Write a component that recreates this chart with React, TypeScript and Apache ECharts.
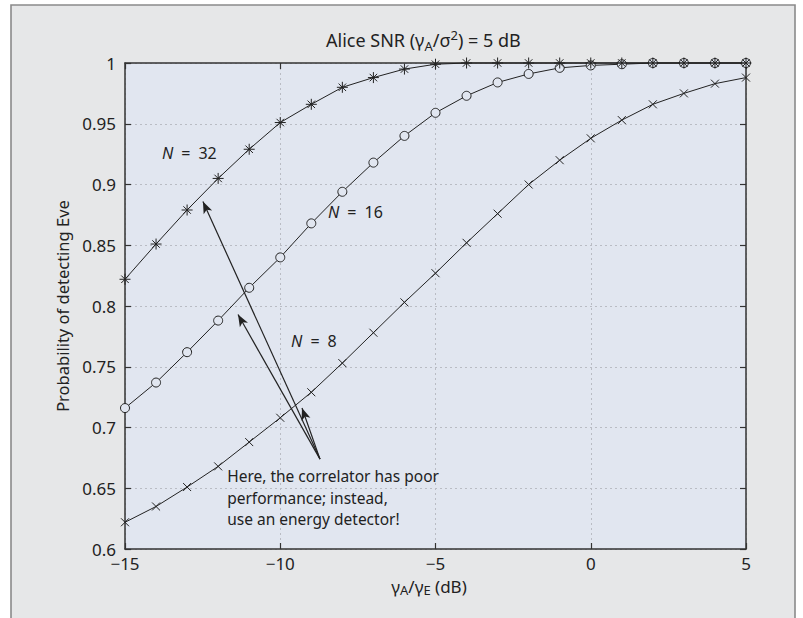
import React, { useEffect, useRef } from "react";
import * as echarts from "echarts";

const xValues: number[] = [-15, -14, -13, -12, -11, -10, -9, -8, -7, -6, -5, -4, -3, -2, -1, 0, 1, 2, 3, 4, 5];
const n32: number[] = [0.822, 0.851, 0.879, 0.905, 0.929, 0.951, 0.966, 0.98, 0.988, 0.995, 0.999, 1, 1, 1, 1, 1, 1, 1, 1, 1, 1];
const n16: number[] = [0.716, 0.737, 0.762, 0.788, 0.815, 0.84, 0.868, 0.894, 0.918, 0.94, 0.959, 0.973, 0.984, 0.991, 0.996, 0.998, 0.999, 1, 1, 1, 1];
const n8: number[] = [0.622, 0.635, 0.651, 0.668, 0.688, 0.708, 0.729, 0.753, 0.778, 0.803, 0.827, 0.852, 0.876, 0.9, 0.92, 0.938, 0.953, 0.966, 0.975, 0.983, 0.988];

const seriesNames: string[] = ["N = 8", "N = 16", "N = 32"];
const xTicks = { min: -15, max: 5, interval: 5 };
const yTicks = { min: 0.6, max: 1, interval: 0.05 };

// arrows: [from, to] in data coordinates
const arrowFrom: [number, number] = [-8.72, 0.674];
const arrowTips: [number, number][] = [
  [-12.49, 0.886],
  [-11.36, 0.793],
  [-9.3, 0.716],
];
const labelPos: [number, number][] = [
  [-9.65, 0.771], // N = 8
  [-8.46, 0.877], // N = 16
  [-13.81, 0.926], // N = 32
];
const noteLines: string[] = [
  "Here, the correlator has poor",
  "performance; instead,",
  "use an energy detector!",
];
const notePos: [number, number] = [-11.71, 0.6597];

const FONT = "'Noto Sans', 'Open Sans', sans-serif";
const INK = "#222";

const pair = (ys: number[]) => xValues.map((x, i) => [x, ys[i]]);

const asteriskPath = "path://M5 0L5 10M0 5L10 5M1.6 1.6L8.4 8.4M8.4 1.6L1.6 8.4";
const crossPath = "path://M0 0L10 10M10 0L0 10";

export default function App() {
  const ref = useRef<HTMLDivElement>(null);
  useEffect(() => {
    if (!ref.current) return;
    const chart = echarts.init(ref.current, null, { renderer: "svg" });
    const axisLine = { show: true, onZero: false, lineStyle: { color: "#333", width: 1.5 } };
    const tick = { show: true, inside: true, length: 6, lineStyle: { color: "#333", width: 1.2 } };
    const split = { show: true, lineStyle: { color: "#b9bcc4", type: [2, 3] as any, width: 1 } };
    const labelStyle = { fontFamily: FONT, fontSize: 17, color: "#222" };
    const markerStyle = { color: "none", borderColor: INK, borderWidth: 1 };
    const option: any = {
      animation: false,
      backgroundColor: "#fff",
      grid: {
        left: 125,
        right: 57,
        top: 63,
        bottom: 69,
        show: true,
        backgroundColor: "#e1e6f0",
        borderWidth: 0,
      },
      xAxis: [
        {
          type: "value",
          ...xTicks,
          axisLine,
          axisTick: tick,
          splitLine: split,
          axisLabel: {
            ...labelStyle,
            margin: 6,
            formatter: (v: number) => String(v).replace("-", "\u2212"),
          },
        },
        {
          type: "value",
          position: "top",
          ...xTicks,
          axisLine,
          axisTick: tick,
          splitLine: { show: false },
          axisLabel: { show: false },
        },
      ],
      yAxis: [
        {
          type: "value",
          ...yTicks,
          axisLine,
          axisTick: tick,
          splitLine: split,
          axisLabel: { ...labelStyle, margin: 9 },
        },
        {
          type: "value",
          position: "right",
          ...yTicks,
          axisLine,
          axisTick: tick,
          splitLine: { show: false },
          axisLabel: { show: false },
        },
      ],
      series: [
        {
          name: seriesNames[0],
          type: "line",
          data: pair(n8),
          clip: false,
          symbol: crossPath,
          symbolSize: 8,
          showAllSymbol: true,
          lineStyle: { color: INK, width: 1 },
          itemStyle: markerStyle,
          z: 3,
          markLine: {
            silent: true,
            symbol: ["none", "arrow"],
            symbolSize: [7, 12],
            label: { show: false },
            lineStyle: { color: INK, width: 1.2, type: "solid" },
            data: arrowTips.map((t) => [{ coord: arrowFrom }, { coord: t }]),
          },
        },
        {
          name: seriesNames[1],
          type: "line",
          data: pair(n16),
          clip: false,
          symbol: "circle",
          symbolSize: 9,
          showAllSymbol: true,
          lineStyle: { color: INK, width: 1 },
          itemStyle: { color: "#e1e6f0", borderColor: INK, borderWidth: 1 },
          z: 4,
        },
        {
          name: seriesNames[2],
          type: "line",
          data: pair(n32),
          clip: false,
          symbol: asteriskPath,
          symbolSize: 11,
          showAllSymbol: true,
          lineStyle: { color: INK, width: 1 },
          itemStyle: markerStyle,
          z: 5,
        },
      ],
    };
    chart.setOption(option);

    const px = (p: [number, number]) => chart.convertToPixel({ gridIndex: 0 }, p) as number[];
    const graphics: any[] = [
      {
        type: "rect",
        z: -10,
        silent: true,
        shape: { x: 11, y: 5, width: 784, height: 640 },
        style: { fill: "#e6e7e8", stroke: "#8a8a8a", lineWidth: 1.6 },
      },
      {
        type: "text",
        z: 100,
        x: 326,
        y: 40,
        style: {
          text: "{n|Alice SNR (\u03b3}{sub|A}{n|/\u03c3}{sup|2}{n|) = 5 dB}",
          align: "left",
          verticalAlign: "middle",
          fill: "#222",
          rich: {
            n: { fontFamily: FONT, fontSize: 18, lineHeight: 24, fill: "#222" },
            sub: { fontFamily: FONT, fontSize: 13, lineHeight: 13, verticalAlign: "bottom", fill: "#222" },
            sup: { fontFamily: FONT, fontSize: 13, lineHeight: 13, verticalAlign: "top", fill: "#222" },
          },
        },
      },
      {
        type: "text",
        z: 100,
        x: 429,
        y: 586,
        style: {
          text: "{n|\u03b3}{sub|A}{n|/\u03b3}{sub|E}{n| (dB)}",
          align: "center",
          verticalAlign: "middle",
          fill: "#222",
          rich: {
            n: { fontFamily: FONT, fontSize: 17, lineHeight: 20, fill: "#222" },
            sub: { fontFamily: FONT, fontSize: 13, lineHeight: 13, verticalAlign: "bottom", fill: "#222" },
          },
        },
      },
      {
        type: "text",
        z: 100,
        x: 62,
        y: 306,
        rotation: Math.PI / 2,
        style: {
          text: "Probability of detecting Eve",
          align: "center",
          verticalAlign: "middle",
          fontFamily: FONT,
          fontSize: 16.5,
          fill: "#222",
        },
      },
    ];
    seriesNames.forEach((name, i) => {
      const p = px(labelPos[i]);
      const rest = name.replace(/^N/, "").replace(/ /g, "\u2002");
      graphics.push({
        type: "text",
        z: 100,
        x: p[0],
        y: p[1],
        style: {
          text: `{i|N}{n|${rest}}`,
          align: "left",
          verticalAlign: "middle",
          rich: {
            i: { fontFamily: FONT, fontSize: 16, fontStyle: "italic", fill: "#222" },
            n: { fontFamily: FONT, fontSize: 16, fill: "#222" },
          },
        },
      });
    });
    const np = px(notePos);
    noteLines.forEach((line, i) => {
      graphics.push({
        type: "text",
        z: 100,
        x: np[0],
        y: np[1] + i * 21.5,
        style: {
          text: line,
          align: "left",
          verticalAlign: "middle",
          fontFamily: FONT,
          fontSize: 15.5,
          fill: "#222",
        },
      });
    });
    chart.setOption({ graphic: graphics });
    return () => chart.dispose();
  }, []);
  return (
    <div
      ref={ref}
      style={{ position: "fixed", left: 0, top: 0, width: 803, height: 618 }}
    />
  );
}
